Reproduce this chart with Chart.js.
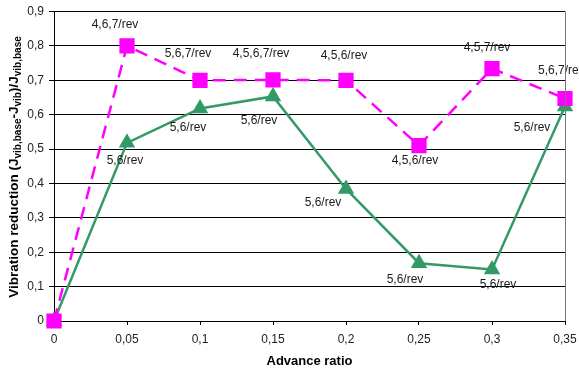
<!DOCTYPE html>
<html>
<head>
<meta charset="utf-8">
<script src="https://cdn.jsdelivr.net/npm/chart.js@4"></script>
<style>
  html, body { margin: 0; padding: 0; background: #fff; }
  #wrap { width: 579px; height: 369px; }
</style>
</head>
<body>
<div id="wrap"><canvas id="chart"></canvas></div>
<script>
// advance ratio values on the x axis
const advanceRatio = [0, 0.05, 0.1, 0.15, 0.2, 0.25, 0.3, 0.35];

// vibration reduction for both controller sets
const reductionPink = [0, 0.8, 0.7, 0.701, 0.7, 0.51, 0.734, 0.647];
const reductionGreen = [0, 0.518, 0.618, 0.653, 0.384, 0.168, 0.15, 0.624];

// harmonics used at each point
const harmonicsPink = ['', '4,6,7/rev', '5,6,7/rev', '4,5,6,7/rev', '4,5,6/rev', '4,5,6/rev', '4,5,7/rev', '5,6,7/rev'];
const harmonicsGreen = ['', '5,6/rev', '5,6/rev', '5,6/rev', '5,6/rev', '5,6/rev', '5,6/rev', '5,6/rev'];

// text offsets from each point (px)
const pinkOffsets = [[0, 0], [-12, -21], [-12, -27], [-12, -26], [-2, -25], [-4, 15], [-5, -21], [-27, -28, 'left']];
const greenOffsets = [[0, 0], [-2, 18], [-12, 19], [-14, 24], [-23, 14], [-14, 16], [6, 15], [-33, 21]];

const FONT = '"Liberation Sans", Arial, sans-serif';

function comma(v) {
    return String(+v.toFixed(2)).replace('.', ',');
}

const pointLabels = {
    id: 'pointLabels',
    afterDatasetsDraw(chart) {
        const ctx = chart.ctx;
        ctx.save();
        ctx.font = '12px ' + FONT;
        ctx.fillStyle = '#1a1a1a';
        ctx.textBaseline = 'middle';
        const sets = [[harmonicsPink, pinkOffsets], [harmonicsGreen, greenOffsets]];
        sets.forEach(([labels, offs], di) => {
            const meta = chart.getDatasetMeta(di);
            meta.data.forEach((pt, i) => {
                if (!labels[i]) return;
                const o = offs[i];
                ctx.textAlign = o[2] || 'center';
                ctx.fillText(labels[i], pt.x + o[0], pt.y + o[1]);
            });
        });
        ctx.restore();
    }
};

// y title with subscripts, plus the gray right border
const frame = {
    id: 'frame',
    afterDraw(chart) {
        const ctx = chart.ctx;
        const area = chart.chartArea;
        ctx.save();
        ctx.strokeStyle = '#777';
        ctx.lineWidth = 1;
        ctx.beginPath();
        ctx.moveTo(area.right + 0.5, area.top);
        ctx.lineTo(area.right + 0.5, area.bottom);
        ctx.stroke();

        const parts = [
            ['Vibration reduction (J', false],
            ['vib,base', true],
            ['-J', false],
            ['vib', true],
            [')/J', false],
            ['vib,base', true]
        ];
        const big = 'bold 13.5px ' + FONT;
        const small = 'bold 10px ' + FONT;
        let total = 0;
        parts.forEach(p => {
            ctx.font = p[1] ? small : big;
            total += ctx.measureText(p[0]).width;
        });
        ctx.translate(14, 167);
        ctx.rotate(-Math.PI / 2);
        ctx.fillStyle = '#000';
        ctx.textBaseline = 'middle';
        ctx.textAlign = 'left';
        let x = -total / 2;
        parts.forEach(p => {
            ctx.font = p[1] ? small : big;
            ctx.fillText(p[0], x, p[1] ? 4 : 0);
            x += ctx.measureText(p[0]).width;
        });
        ctx.restore();
    }
};

new Chart(document.getElementById('chart'), {
    type: 'line',
    data: {
        datasets: [{
            data: advanceRatio.map((x, i) => ({ x: x, y: reductionPink[i] })),
            borderColor: '#ff00ff',
            backgroundColor: '#ff00ff',
            borderWidth: 2.5,
            borderDash: [13, 8],
            pointStyle: 'rect',
            pointRadius: 9,
            pointHoverRadius: 9,
            tension: 0,
            clip: false
        }, {
            data: advanceRatio.map((x, i) => ({ x: x, y: reductionGreen[i] })),
            borderColor: '#339966',
            backgroundColor: '#339966',
            borderWidth: 2.5,
            pointStyle: 'triangle',
            pointRadius: 7,
            pointHoverRadius: 7,
            tension: 0,
            clip: false
        }]
    },
    options: {
        responsive: true,
        maintainAspectRatio: false,
        animation: false,
        events: [],
        layout: { padding: { top: 10, right: 14, left: 0, bottom: 0 } },
        plugins: {
            legend: { display: false },
            tooltip: { enabled: false }
        },
        scales: {
            x: {
                type: 'linear',
                min: 0,
                max: 0.35,
                afterFit: s => {
                    s.height = 48;
                    s.paddingLeft = 0;
                    s.paddingRight = 0;
                },
                ticks: {
                    stepSize: 0.05,
                    padding: 7,
                    color: '#222',
                    font: { family: FONT, size: 12 },
                    callback: v => comma(v)
                },
                grid: { drawOnChartArea: false, drawTicks: true, tickLength: 4, color: '#000' },
                border: { color: '#000', width: 1 },
                title: {
                    display: true,
                    text: 'Advance ratio',
                    color: '#000',
                    font: { family: FONT, size: 13, weight: 'bold' },
                    padding: { top: 2, bottom: 0 }
                }
            },
            y: {
                min: 0,
                max: 0.9,
                afterFit: s => {
                    s.width = 54;
                    s.paddingTop = 0;
                    s.paddingBottom = 0;
                },
                ticks: {
                    stepSize: 0.1,
                    padding: 5,
                    color: '#222',
                    font: { family: FONT, size: 12 },
                    callback: v => comma(v)
                },
                grid: { color: '#000', lineWidth: 1, tickLength: 5 },
                border: { color: '#000', width: 1 }
            }
        }
    },
    plugins: [pointLabels, frame]
});
</script>
</body>
</html>
